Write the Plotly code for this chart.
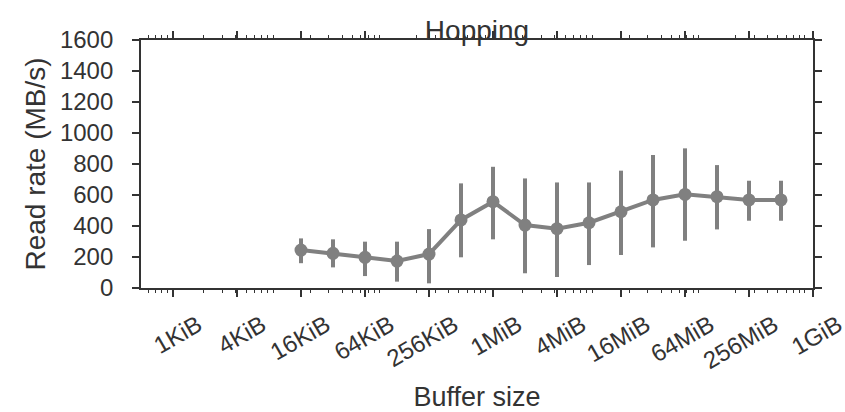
import plotly.graph_objects as go
import math

# Data
buffer_sizes = [2**14, 2**15, 2**16, 2**17, 2**18, 2**19, 2**20, 2**21,
                2**22, 2**23, 2**24, 2**25, 2**26, 2**27, 2**28, 2**29]
read_rate = [245, 224, 198, 174, 219, 439, 557, 406,
             383, 421, 492, 568, 604, 589, 568, 568]
ci_high = [320, 314, 299, 299, 380, 675, 782, 707,
           681, 681, 757, 858, 901, 793, 692, 692]
ci_low = [160, 133, 77, 41, 30, 198, 314, 95,
          71, 148, 213, 262, 305, 378, 434, 434]

tick_vals = [2**10, 2**12, 2**14, 2**16, 2**18, 2**20, 2**22, 2**24, 2**26, 2**28, 2**30]
tick_text = ["1KiB", "4KiB", "16KiB", "64KiB", "256KiB", "1MiB", "4MiB",
             "16MiB", "64MiB", "256MiB", "1GiB"]
y_ticks = [0, 200, 400, 600, 800, 1000, 1200, 1400, 1600]

x_min, x_max = 2**9, 2**30
minor_vals = [m * 10**k for k in range(2, 10) for m in range(2, 10)
              if x_min < m * 10**k < x_max]

err_plus = [h - v for h, v in zip(ci_high, read_rate)]
err_minus = [v - l for v, l in zip(read_rate, ci_low)]

color = "#808080"
text_color = "#333333"
font = "Liberation Sans, Arial, sans-serif"

fig = go.Figure()
fig.add_trace(go.Scatter(
    x=buffer_sizes, y=read_rate, mode="lines+markers",
    line=dict(color=color, width=4),
    marker=dict(color=color, size=13, symbol="circle"),
    error_y=dict(type="data", array=err_plus, arrayminus=err_minus,
                 color=color, thickness=4, width=0),
    showlegend=False,
))

fig.update_layout(
    width=845, height=412,
    margin=dict(l=141, r=32, t=40, b=124),
    paper_bgcolor="white", plot_bgcolor="white",
    font=dict(family=font, color=text_color, size=24),
    title=dict(text="Hopping", x=0.5, xref="paper", xanchor="center",
               y=1, yref="paper", yanchor="bottom", pad=dict(b=0, t=0),
               font=dict(size=28, family=font, color=text_color)),
)
fig.update_xaxes(
    type="log", range=[math.log10(x_min), math.log10(x_max)],
    tickmode="array", tickvals=tick_vals, ticktext=tick_text,
    tickangle=-30, tickfont=dict(size=24),
    ticklabelshift=25, ticklabelstandoff=5, ticklabeloverflow="allow",
    automargin=False,
    ticks="outside", ticklen=7, tickwidth=1.5, tickcolor=text_color,
    minor=dict(tickmode="array", tickvals=minor_vals, ticks="outside",
               ticklen=3.5, tickwidth=1.2, tickcolor=text_color),
    showline=True, linecolor=text_color, linewidth=1.8, mirror="ticks",
    showgrid=False, zeroline=False,
    title=dict(text="Buffer size", font=dict(size=27), standoff=14),
)
fig.update_yaxes(
    range=[0, 1600], tickmode="array", tickvals=y_ticks,
    ticks="outside", ticklen=7, tickwidth=1.5, tickcolor=text_color,
    ticklabelstandoff=14, automargin=False,
    showline=True, linecolor=text_color, linewidth=1.8, mirror="ticks",
    showgrid=False, zeroline=False, tickfont=dict(size=24),
    title=dict(text="Read rate (MB/s)", font=dict(size=28), standoff=6),
)

fig.write_html("out.html")
